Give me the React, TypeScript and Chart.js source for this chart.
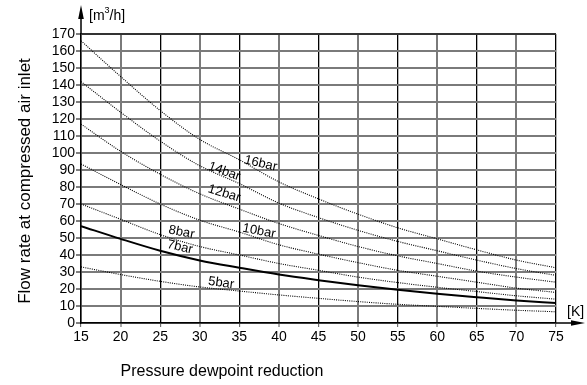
import React, { useEffect, useRef } from "react";
import { Chart, registerables } from "chart.js";

Chart.register(...registerables);

// Pressure dewpoint reduction [K]
const xValues = [15, 20, 25, 30, 35, 40, 45, 50, 55, 60, 65, 70, 75];

// Flow rate at compressed air inlet [m3/h], per operating pressure
const bar16 = [166, 145, 125, 108, 96, 83, 73, 64, 56, 49.5, 43, 37, 32.5];
const bar14 = [142, 124, 107, 92.5, 82, 70.5, 62, 54.5, 48, 42.5, 37, 32, 28];
const bar12 = [117, 101, 87.5, 76, 67, 58.5, 51.5, 45, 39.5, 35, 30.5, 27, 24];
const bar10 = [93.5, 81.5, 70, 60.5, 53.5, 46, 40.5, 35.5, 31, 27.5, 24, 20.5, 18];
const bar8 = [70, 61, 52, 45, 40, 35, 31, 27, 23.8, 21, 18.5, 16, 14];
const bar7 = [57, 49.5, 42.5, 36.8, 32.5, 28.5, 25.2, 22.2, 19.6, 17.2, 15.2, 13.3, 11.7];
const bar5 = [33, 28.5, 24.5, 21.2, 18.8, 16.5, 14.5, 12.6, 11, 9.8, 8.6, 7.5, 6.6];

const seriesNames = ["16bar", "14bar", "12bar", "10bar", "8bar", "7bar", "5bar"];
const seriesValues = [bar16, bar14, bar12, bar10, bar8, bar7, bar5];

// Curve label anchors in data coordinates, with rotation in degrees
const labelX = [37.7, 33.1, 33.1, 37.5, 27.7, 27.5, 32.7];
const labelY = [93.8, 89.1, 76.2, 54, 53.4, 44.6, 23.5];
const labelAngle = [13, 20, 17, 11, 11, 13, 8];

const xTitle = "Pressure dewpoint reduction";
const yTitle = "Flow rate at compressed air inlet";

const FONT = "'Liberation Sans', Arial, sans-serif";

const overlayPlugin = {
  id: "overlay",
  afterDraw(chart: any) {
    const ctx = chart.ctx;
    const xs = chart.scales.x;
    const ys = chart.scales.y;
    const area = chart.chartArea;
    ctx.save();

    // curve labels
    ctx.fillStyle = "#000";
    ctx.font = `13px ${FONT}`;
    ctx.textAlign = "center";
    ctx.textBaseline = "middle";
    for (let i = 0; i < seriesNames.length; i++) {
      const px = xs.getPixelForValue(labelX[i]);
      const py = ys.getPixelForValue(labelY[i]);
      ctx.save();
      ctx.translate(px, py);
      ctx.rotate((labelAngle[i] * Math.PI) / 180);
      ctx.fillText(seriesNames[i], 0, 0);
      ctx.restore();
    }

    // axis arrows
    ctx.strokeStyle = "#000";
    ctx.lineWidth = 1.5;
    ctx.beginPath();
    ctx.moveTo(area.left, area.top);
    ctx.lineTo(area.left, 14);
    ctx.moveTo(area.right, area.bottom);
    ctx.lineTo(area.right + 20, area.bottom);
    ctx.stroke();
    ctx.beginPath();
    ctx.moveTo(area.left, 5);
    ctx.lineTo(area.left - 2.8, 19);
    ctx.lineTo(area.left + 2.8, 19);
    ctx.closePath();
    ctx.fill();
    ctx.beginPath();
    ctx.moveTo(area.right + 29, area.bottom);
    ctx.lineTo(area.right + 15, area.bottom - 2.8);
    ctx.lineTo(area.right + 15, area.bottom + 2.8);
    ctx.closePath();
    ctx.fill();

    // units
    ctx.textAlign = "left";
    ctx.textBaseline = "alphabetic";
    ctx.font = `14px ${FONT}`;
    let ux = area.left + 8;
    ctx.fillText("[m", ux, 20);
    ux += ctx.measureText("[m").width;
    ctx.font = `9px ${FONT}`;
    ctx.fillText("3", ux, 13);
    ux += ctx.measureText("3").width;
    ctx.font = `14px ${FONT}`;
    ctx.fillText("/h]", ux, 20);
    ctx.fillText("[K]", area.right + 11, area.bottom - 7);

    // axis titles
    ctx.font = `16px ${FONT}`;
    ctx.textAlign = "center";
    ctx.textBaseline = "middle";
    ctx.fillText(xTitle, 222, 372);
    ctx.save();
    ctx.translate(25, 181);
    ctx.rotate(-Math.PI / 2);
    ctx.font = `17px ${FONT}`;
    ctx.fillText(yTitle, 0, 0);
    ctx.restore();

    ctx.restore();
  },
};

export default function App() {
  const canvasRef = useRef<HTMLCanvasElement | null>(null);

  useEffect(() => {
    if (!canvasRef.current) return;
    const datasets = seriesNames.map((name, i) => ({
      label: name,
      data: seriesValues[i].map((v, j) => ({ x: xValues[j], y: v })),
      borderColor: "#000",
      borderWidth: name === "7bar" ? 2 : 1.1,
      borderDash: name === "7bar" ? [] : [1, 1.2],
      pointRadius: 0,
      fill: false,
      cubicInterpolationMode: "monotone" as const,
    }));

    const chart = new Chart(canvasRef.current, {
      type: "line",
      data: { datasets },
      plugins: [overlayPlugin],
      options: {
        animation: false,
        responsive: false,
        devicePixelRatio: 1,
        layout: { padding: { left: 0, top: 34, right: 31, bottom: 0 } },
        plugins: { legend: { display: false }, tooltip: { enabled: false } },
        scales: {
          x: {
            type: "linear",
            min: 15,
            max: 75,
            afterFit: (s: any) => {
              s.height = 62;
            },
            ticks: {
              stepSize: 5,
              autoSkip: false,
              maxRotation: 0,
              color: "#000",
              padding: 2,
              font: { family: FONT, size: 14 },
            },
            grid: {
              color: (c: any) => (c.tick && c.tick.value % 10 === 0 ? "#7a7a7a" : "#000"),
              lineWidth: (c: any) => (c.tick && c.tick.value % 10 === 0 ? 2 : 1.3),
              tickColor: "#555",
              tickLength: 4,
              tickWidth: 1,
            },
            border: { color: "#000", width: 1.5 },
          },
          y: {
            type: "linear",
            min: 0,
            max: 170,
            afterFit: (s: any) => {
              s.width = 81;
            },
            ticks: {
              stepSize: 10,
              autoSkip: false,
              color: "#000",
              padding: 1,
              font: { family: FONT, size: 14 },
            },
            grid: {
              color: (c: any) => (c.tick && c.tick.value === 170 ? "#333" : "#7a7a7a"),
              lineWidth: 2,
              tickColor: "#000",
              tickLength: 5,
              tickWidth: 1,
            },
            border: { color: "#000", width: 1.5 },
          },
        },
      },
    });
    return () => chart.destroy();
  }, []);

  return (
    <div style={{ position: "fixed", left: 0, top: 0, width: 587, height: 385, background: "#fff" }}>
      <canvas ref={canvasRef} width={587} height={385} style={{ display: "block" }} />
    </div>
  );
}
